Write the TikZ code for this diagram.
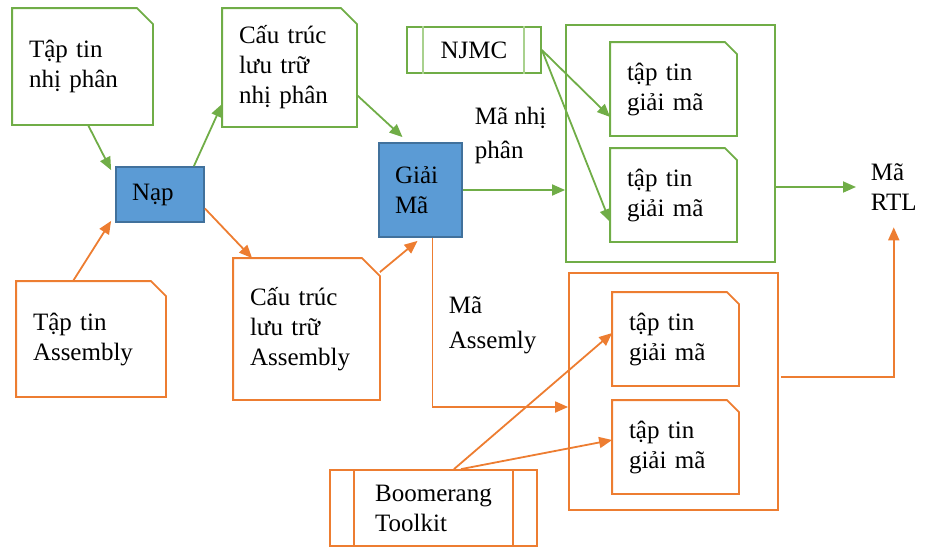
\documentclass[tikz,border=0pt]{standalone}
\usepackage{fontspec}
\setmainfont{Liberation Serif}
\newfontfamily\diagfont{Liberation Serif}
\usetikzlibrary{shapes, arrows.meta, positioning}
\definecolor{leaf}{HTML}{70AD47}
\definecolor{leaflight}{HTML}{A9D18E}
\definecolor{amber}{HTML}{ED7D31}
\definecolor{sky}{HTML}{5B9BD5}
\definecolor{skyedge}{HTML}{41719C}
\newcommand{\snipframe}[3]{\draw[#2] (#1.south west) -- (#1.north west) -- ([xshift=-#3]#1.north east) -- ([yshift=-#3]#1.north east) -- (#1.south east) -- cycle;}

\begin{document}
\begin{tikzpicture}[x=1pt,y=-1pt,font=\diagfont\fontsize{25}{30}\selectfont,line width=1.8pt,
  txt/.style={inner xsep=16pt, inner ysep=0pt, align=left},
  step box/.style={txt, draw=skyedge, fill=sky},
  arr/.style={-{Triangle[length=13pt,width=11pt]}}]
\useasboundingbox (0,0) rectangle (930,555);
% left column
\node[txt, minimum width=139pt, minimum height=115pt, text width=107pt] (bin) at (82.5,66.5) {Tập tin\\nhị phân};
\snipframe{bin}{leaf}{16pt}
\node[txt, minimum width=148pt, minimum height=114pt, text width=116pt] (asm) at (91,339) {Tập tin\\Assembly};
\snipframe{asm}{amber}{15pt}
\node[step box, minimum width=88pt, minimum height=55pt, text width=56pt] (nap) at (160,194.5) {Nạp};
% storage
\node[txt, minimum width=133pt, minimum height=117pt, text width=101pt] (binstore) at (289.5,67.5) {Cấu trúc\\lưu trữ\\nhị phân};
\snipframe{binstore}{leaf}{16pt}
\node[txt, minimum width=145pt, minimum height=140pt, text width=113pt] (asmstore) at (306.5,329) {Cấu trúc\\lưu trữ\\Assembly};
\snipframe{asmstore}{amber}{18pt}
\node[step box, minimum width=83pt, minimum height=94pt, text width=51pt] (dec) at (420.5,190) {Giải\\Mã};
% tools
\node[draw=leaf, minimum width=134pt, minimum height=46pt] (njmc) at (474,50) {NJMC};
\draw[leaflight] ([xshift=17pt]njmc.north west) -- ([xshift=17pt]njmc.south west);
\draw[leaflight] ([xshift=-18pt]njmc.north east) -- ([xshift=-18pt]njmc.south east);
\node[draw=amber, align=left, minimum width=207pt, minimum height=76pt] (boom) at (433.5,508) {Boomerang\\Toolkit};
\draw[amber] ([xshift=25pt]boom.north west) -- ([xshift=25pt]boom.south west);
\draw[amber] ([xshift=-25pt]boom.north east) -- ([xshift=-25pt]boom.south east);
% output groups
\node[draw=leaf, minimum width=209pt, minimum height=237pt] (gbox) at (670.5,143.5) {};
\node[txt, minimum width=125pt, minimum height=92pt, text width=93pt] (gfile1) at (673.5,89) {tập tin\\giải mã};
\snipframe{gfile1}{leaf}{12pt}
\node[txt, minimum width=125pt, minimum height=92pt, text width=93pt] (gfile2) at (673.5,195) {tập tin\\giải mã};
\snipframe{gfile2}{leaf}{12pt}
\node[draw=amber, minimum width=209pt, minimum height=237pt] (obox) at (673.5,391.5) {};
\node[txt, minimum width=125pt, minimum height=92pt, text width=93pt] (ofile1) at (675.5,339) {tập tin\\giải mã};
\snipframe{ofile1}{amber}{12pt}
\node[txt, minimum width=125pt, minimum height=92pt, text width=93pt] (ofile2) at (675.5,447) {tập tin\\giải mã};
\snipframe{ofile2}{amber}{12pt}
\node[inner xsep=14pt, inner ysep=16pt, align=left, anchor=west] (rtl) at (856,187) {Mã\\RTL};
% labels
\node[inner sep=0pt, align=left, anchor=west] (binlabel) at (474,135) {Mã nhị\\[4pt]phân};
\node[inner sep=0pt, align=left, anchor=west] (asmlabel) at (448,325) {Mã\\[5pt]Assemly};
% green flow
\draw[arr, leaf] ([xshift=5.5pt]bin.south) -- ([xshift=-4pt,yshift=-4pt]nap.north west);
\draw[arr, leaf] ([xshift=-11pt]nap.north east) -- ([yshift=23pt]binstore.south west);
\draw[arr, leaf] ([yshift=-27.5pt]binstore.east) -- ([xshift=-18pt,yshift=5pt]dec.north);
\draw[arr, leaf] (dec.east) -- (dec.east -| gbox.west);
\draw[arr, leaf] (njmc.east) -- ([yshift=-28pt]gfile1.west);
\draw[arr, leaf] (njmc.east) -- ([yshift=-27pt]gfile2.west);
\draw[arr, leaf] (rtl.west -| gbox.east) -- (rtl.west);
% orange flow
\draw[arr, amber] ([xshift=-18pt]asm.north) -- ([xshift=-4pt,yshift=2pt]nap.south west);
\draw[arr, amber] ([yshift=-14pt]nap.east) -- ([xshift=19pt]asmstore.north west);
\draw[arr, amber] ([yshift=-14pt]asmstore.north east) -- ([xshift=-3pt,yshift=-3pt]dec.south);
\draw[arr, amber] ([xshift=12pt]dec.south) |- ([yshift=-15.5pt]obox.west);
\draw[arr, amber] ([xshift=20.5pt]boom.north) -- ([yshift=6pt]ofile1.west);
\draw[arr, amber] ([xshift=27.5pt]boom.north) -- ([yshift=7pt]ofile2.west);
\draw[arr, amber] ([xshift=2pt,yshift=14.5pt]obox.east) -| (rtl.south);
\end{tikzpicture}
\end{document}
